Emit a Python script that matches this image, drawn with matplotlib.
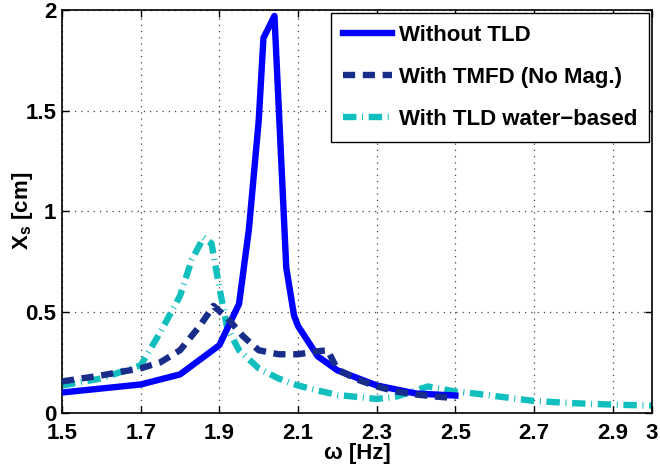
import matplotlib
matplotlib.use("Agg")
import matplotlib.pyplot as plt

# Frequency response of the structure (displacement amplitude vs. excitation frequency)
freq_no_tld = [1.5, 1.7, 1.8, 1.9, 1.95, 1.975, 2.0, 2.012, 2.04, 2.07, 2.09, 2.1, 2.15, 2.2, 2.3, 2.4, 2.5]
xs_no_tld = [0.10, 0.14, 0.19, 0.335, 0.54, 0.91, 1.45, 1.86, 1.97, 0.72, 0.48, 0.43, 0.28, 0.21, 0.135, 0.095, 0.085]

freq_tmfd = [1.5, 1.6, 1.7, 1.75, 1.8, 1.85, 1.885, 1.92, 1.96, 2.0, 2.05, 2.1, 2.15, 2.175, 2.2, 2.25, 2.3, 2.35, 2.4, 2.45, 2.5]
xs_tmfd = [0.155, 0.185, 0.22, 0.25, 0.31, 0.43, 0.53, 0.47, 0.38, 0.31, 0.29, 0.29, 0.305, 0.31, 0.215, 0.165, 0.13, 0.105, 0.09, 0.08, 0.072]

freq_water = [1.5, 1.6, 1.7, 1.75, 1.8, 1.83, 1.86, 1.88, 1.9, 1.92, 1.95, 2.0, 2.05, 2.1, 2.15, 2.2, 2.25, 2.3, 2.35, 2.43, 2.5, 2.55, 2.7, 2.8, 2.9, 3.0]
xs_water = [0.135, 0.17, 0.235, 0.40, 0.58, 0.76, 0.87, 0.84, 0.62, 0.42, 0.31, 0.22, 0.17, 0.135, 0.11, 0.088, 0.078, 0.068, 0.08, 0.13, 0.105, 0.095, 0.058, 0.047, 0.04, 0.035]

labels = ["Without TLD", "With TMFD (No Mag.)", "With TLD water\u2212based"]
xticks = [1.5, 1.7, 1.9, 2.1, 2.3, 2.5, 2.7, 2.9, 3.0]
xticklabels = ["1.5", "1.7", "1.9", "2.1", "2.3", "2.5", "2.7", "2.9", "3"]
yticks = [0, 0.5, 1, 1.5, 2]
yticklabels = ["0", "0.5", "1", "1.5", "2"]

plt.rcParams["font.family"] = ["Liberation Sans", "DejaVu Sans"]
plt.rcParams["font.weight"] = "bold"
plt.rcParams["mathtext.fontset"] = "custom"
plt.rcParams["mathtext.bf"] = "Liberation Sans:bold"

fig = plt.figure(figsize=(6.6, 4.7), dpi=100)
ax = fig.add_axes([0.094, 0.122, 0.894, 0.857])

LW = 4.6
ax.plot(freq_no_tld, xs_no_tld, color="#0000ff", lw=LW, solid_joinstyle="round",
        label=labels[0], zorder=3)
ax.plot(freq_tmfd, xs_tmfd, color="#182c8a", lw=LW, dashes=(1.9, 1.2),
        label=labels[1], zorder=4)
ax.plot(freq_water, xs_water, color="#12bfbf", lw=LW,
        dashes=(2.1, 0.88, 0.16, 0.88), label=labels[2], zorder=2)

ax.set_xlim(1.5, 3.0)
ax.set_ylim(0, 2)
ax.set_xticks(xticks)
ax.set_xticklabels(xticklabels)
ax.set_yticks(yticks)
ax.set_yticklabels(yticklabels)
ax.tick_params(direction="in", length=5, width=1, top=True, right=True,
               labelsize=16)
ax.tick_params(axis="x", pad=7.5)
ax.tick_params(axis="y", pad=4)
for lab in ax.get_xticklabels() + ax.get_yticklabels():
    lab.set_fontweight("bold")
for sp in ax.spines.values():
    sp.set_linewidth(1.2)

ax.grid(True, color="#444444", linestyle=(0, (1, 4)), linewidth=0.9)

ax.set_xlabel("\u03c9 [Hz]", fontsize=16, fontweight="bold", labelpad=-1)
ax.set_ylabel(r"X$_\mathbf{s}$ [cm]", fontsize=16, fontweight="bold")
ax.yaxis.set_label_coords(-0.046, 0.5)

leg = ax.legend(loc="upper right", fontsize=16, handlelength=2.2, labelspacing=0.95,
                fancybox=False, edgecolor="black", framealpha=1,
                borderaxespad=0.12, handletextpad=0.3, borderpad=0.55)
leg.get_frame().set_linewidth(1.0)
for t in leg.get_texts():
    t.set_fontweight("bold")

fig.savefig("out.png", dpi=100)
